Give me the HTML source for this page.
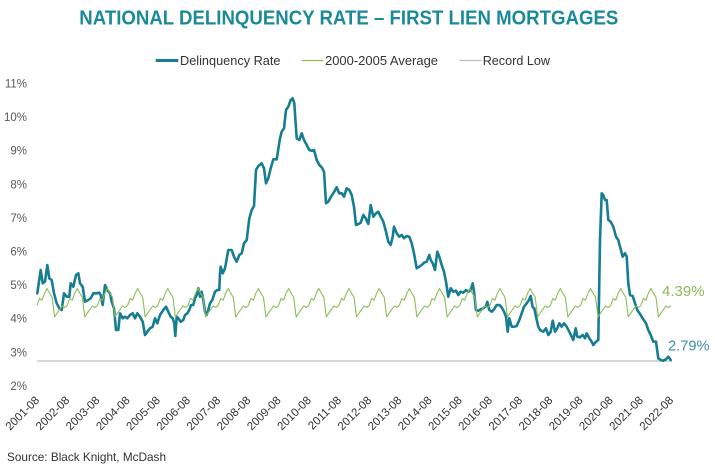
<!DOCTYPE html>
<html>
<head>
<meta charset="utf-8">
<style>
  html,body{margin:0;padding:0;background:#fff;}
  svg{display:block;}
  text{font-family:"Liberation Sans",Arial,sans-serif;}
</style>
</head>
<body>
<svg width="715" height="467" viewBox="0 0 715 467" xmlns="http://www.w3.org/2000/svg">
  <rect width="715" height="467" fill="#fff"/>
  <defs>
    <path id="yr" d="M0,0 l2.516,-7.1 l2.516,1.7 l2.516,-7 l2.516,-4.7 l2.516,4.7 l2.516,4 l2.516,19.8 l2.516,-4 l2.516,-3.4 l2.516,-3.7 l2.516,1.7 l2.516,-2" fill="none" stroke="#8dbd58" stroke-width="1.1" stroke-linejoin="round"/>
  </defs>

  <!-- Title -->
  <text x="79.3" y="24.3" font-size="20" font-weight="bold" fill="#1a8a9b" textLength="539" lengthAdjust="spacingAndGlyphs">NATIONAL DELINQUENCY RATE – FIRST LIEN MORTGAGES</text>

  <!-- Legend -->
  <line x1="155.7" y1="60.5" x2="178.3" y2="60.5" stroke="#167d92" stroke-width="3"/>
  <text x="180" y="65" font-size="12.8" fill="#333" textLength="100.5" lengthAdjust="spacingAndGlyphs">Delinquency Rate</text>
  <line x1="301.7" y1="60.5" x2="323.3" y2="60.5" stroke="#8dbd58" stroke-width="1.2"/>
  <text x="325" y="65" font-size="12.8" fill="#333" textLength="113" lengthAdjust="spacingAndGlyphs">2000-2005 Average</text>
  <line x1="459.3" y1="60.5" x2="481.7" y2="60.5" stroke="#bdbdbd" stroke-width="1.2"/>
  <text x="482.7" y="65" font-size="12.8" fill="#333" textLength="67.3" lengthAdjust="spacingAndGlyphs">Record Low</text>

  <!-- Y axis labels -->
  <g font-size="11.5" fill="#595959" text-anchor="end">
    <text x="27" y="87.5">11%</text>
    <text x="27" y="121.1">10%</text>
    <text x="27" y="154.7">9%</text>
    <text x="27" y="188.3">8%</text>
    <text x="27" y="221.9">7%</text>
    <text x="27" y="255.5">6%</text>
    <text x="27" y="289.1">5%</text>
    <text x="27" y="322.7">4%</text>
    <text x="27" y="356.3">3%</text>
    <text x="27" y="389.9">2%</text>
  </g>

  <!-- Record low line -->
  <line x1="37" y1="361" x2="672" y2="361" stroke="#bfbfbf" stroke-width="1.3"/>

  <!-- Delinquency rate -->
  <polyline fill="none" stroke="#167d92" stroke-width="2.6" stroke-linejoin="round" stroke-linecap="round" points="37.3,293.3 40.7,270 42.7,283.3 45,281.7 47.3,265 49.3,278.3 51.7,280 54,293.3 56.7,303.3 59.3,308.3 61.7,310 64,293.3 66.7,296.7 69.3,296.7 70.7,283.3 73.3,286.7 76,275 78.3,273.3 80,283.3 82.7,286.7 85,301.7 88.3,300 90.7,298.3 93.3,293.3 96.7,293.3 99.3,292.7 100.7,295 102.7,305 105,285 107.3,290 110,293.3 111.7,301.7 114,308.3 116,330 118.3,330 120,313.3 122.7,318.3 125,316.7 127.3,318.3 130,315 132.7,313.3 135,318.3 137.3,313.3 140,316.7 142.7,321.7 145,335 147.3,331.7 150,328.3 152.7,326.7 155,318.3 157.3,323.3 160,315 163.3,310 166,306.7 168.3,311.7 170.7,316.7 172.7,318.3 174.3,323.3 175.3,336 176.7,316.7 178.3,318.3 180.7,321.7 183.3,320 185,315 187.3,313.3 189.3,310 191,305 193.3,305 195,298.3 196.7,295 198.3,288.3 200,296.7 201.7,291.7 203.3,300 205,311.7 206.7,315 208.3,310 210,303.3 212.3,300 215,291.7 217.3,290 219.3,290 220,273.3 220.7,266.7 222.7,273.3 225,268.3 228.3,250 231.7,250 234,256.7 236.7,261.7 239.3,255 241.7,253.3 244,243.3 246.7,240 249.3,218.3 251.7,210 254,206 256,170 258.3,166 261.7,163.3 264,168.3 266,183.3 268.3,178.3 270.7,168.3 273.3,159.3 276.7,159.3 280,138.3 281.7,131.7 284,128.3 286,110 288.3,106.7 290.7,100 292.7,98.3 294.3,103.3 296.7,138.3 299.3,140 301.7,133.3 304,140 306.7,145 309.3,150 311.7,150.7 314,150 316.7,160 319.3,165 321.7,167.3 324,171.7 326,203.3 328.3,201.7 331,196.7 333.3,193.3 336.7,187.3 339.3,193.3 341.7,193.3 344,196.7 346.7,188.3 349.3,190 351.7,195 354,206.7 356,225 358.3,224 360.7,222.7 363.3,215 365.7,218.3 368.3,224 370.7,205 373.3,216.7 376,213.3 378.3,211.7 380.7,216.7 383.3,221.7 386,231.7 388.3,241.7 390.7,245 392.7,236.7 394,226.7 396.7,233.3 399.3,236.7 401.7,235 404,238.3 406.7,236 409.3,236.7 411.7,243.3 414,253.3 416.7,268.3 419.3,266.7 421.7,265 424,262.7 426.7,261.7 429.3,255 430.7,260 432.7,263.3 435,270 437.3,251.7 439.3,256.7 441.7,265 444,271.7 446,281.7 448.3,296.7 450.7,288.3 453.3,291.7 456,290.7 458.3,295 460.7,291.7 463.3,292.7 466,290 468.3,291.7 470.7,290 472.7,283.3 474,291.7 476,310 478.3,310.7 480.7,309.3 483.3,308.3 486,306 487.3,301.7 489.3,310 491.7,311.7 494,309.3 496.7,305 499.3,305 501.7,307.3 504,311.7 506,316.7 507.7,331.7 509.3,318.3 511.7,326.7 514,326.7 516.7,326 519.3,320 521.7,313.3 524,306.7 526.7,303.3 529,300 530.7,296 532.7,307.3 534.3,308.3 536,316.7 538.3,326.7 540,330 543.3,331.7 546,328.3 548.3,335 550.7,331.7 552.7,320.7 555,331.7 557.3,328.3 559.3,323.3 561.7,326.7 564,323.3 566.7,326.7 569.3,331.7 571.7,336.7 573.3,340 575.7,328.3 577.3,336.7 580,337.3 582.7,335 585,338.3 586.7,333.3 589.3,338.3 591.7,341.7 593.3,345 596,341.7 598.3,340 600,240 601.7,193.3 603.3,195 605,200 606.7,200 608.3,220 610.7,221.7 613.3,226.7 616,236.7 618.3,240 620,246.7 622.7,256.7 625,253.3 626.7,256.7 628.3,283.3 630,295 632.7,296 635,303.3 637.3,310 640,314 643.3,319.3 646,323.3 648.3,330 650.7,335 653.3,341.7 656,341.7 658.3,358.3 660.7,360 663.3,360.7 666,359.3 668.3,356.7 670.7,360"/>

  <!-- 2000-2005 average (seasonal) -->
  <g transform="translate(0,305.6)">
    <use href="#yr" x="37"/>
    <use href="#yr" x="67.19"/>
    <use href="#yr" x="97.38"/>
    <use href="#yr" x="127.58"/>
    <use href="#yr" x="157.77"/>
    <use href="#yr" x="187.96"/>
    <use href="#yr" x="218.15"/>
    <use href="#yr" x="248.34"/>
    <use href="#yr" x="278.54"/>
    <use href="#yr" x="308.73"/>
    <use href="#yr" x="338.92"/>
    <use href="#yr" x="369.11"/>
    <use href="#yr" x="399.30"/>
    <use href="#yr" x="429.50"/>
    <use href="#yr" x="459.69"/>
    <use href="#yr" x="489.88"/>
    <use href="#yr" x="520.07"/>
    <use href="#yr" x="550.26"/>
    <use href="#yr" x="580.46"/>
    <use href="#yr" x="610.65"/>
    <use href="#yr" x="640.84"/>
  </g>

  <!-- End labels -->
  <text x="662" y="296" font-size="15" fill="#8db85a" textLength="42.6" lengthAdjust="spacingAndGlyphs">4.39%</text>
  <text x="668" y="350.5" font-size="15" fill="#3d8fa8" textLength="41.6" lengthAdjust="spacingAndGlyphs">2.79%</text>

  <!-- X axis labels -->
  <g font-size="11.5" fill="#333" text-anchor="end">
    <text transform="translate(40,401) rotate(-45)">2001-08</text>
    <text transform="translate(70.19,401) rotate(-45)">2002-08</text>
    <text transform="translate(100.38,401) rotate(-45)">2003-08</text>
    <text transform="translate(130.58,401) rotate(-45)">2004-08</text>
    <text transform="translate(160.77,401) rotate(-45)">2005-08</text>
    <text transform="translate(190.96,401) rotate(-45)">2006-08</text>
    <text transform="translate(221.15,401) rotate(-45)">2007-08</text>
    <text transform="translate(251.34,401) rotate(-45)">2008-08</text>
    <text transform="translate(281.54,401) rotate(-45)">2009-08</text>
    <text transform="translate(311.73,401) rotate(-45)">2010-08</text>
    <text transform="translate(341.92,401) rotate(-45)">2011-08</text>
    <text transform="translate(372.11,401) rotate(-45)">2012-08</text>
    <text transform="translate(402.30,401) rotate(-45)">2013-08</text>
    <text transform="translate(432.50,401) rotate(-45)">2014-08</text>
    <text transform="translate(462.69,401) rotate(-45)">2015-08</text>
    <text transform="translate(492.88,401) rotate(-45)">2016-08</text>
    <text transform="translate(523.07,401) rotate(-45)">2017-08</text>
    <text transform="translate(553.26,401) rotate(-45)">2018-08</text>
    <text transform="translate(583.46,401) rotate(-45)">2019-08</text>
    <text transform="translate(613.65,401) rotate(-45)">2020-08</text>
    <text transform="translate(643.84,401) rotate(-45)">2021-08</text>
    <text transform="translate(674.03,401) rotate(-45)">2022-08</text>
  </g>

  <!-- Source -->
  <text x="7" y="461" font-size="12" fill="#333" textLength="159" lengthAdjust="spacingAndGlyphs">Source: Black Knight, McDash</text>
</svg>
</body>
</html>
